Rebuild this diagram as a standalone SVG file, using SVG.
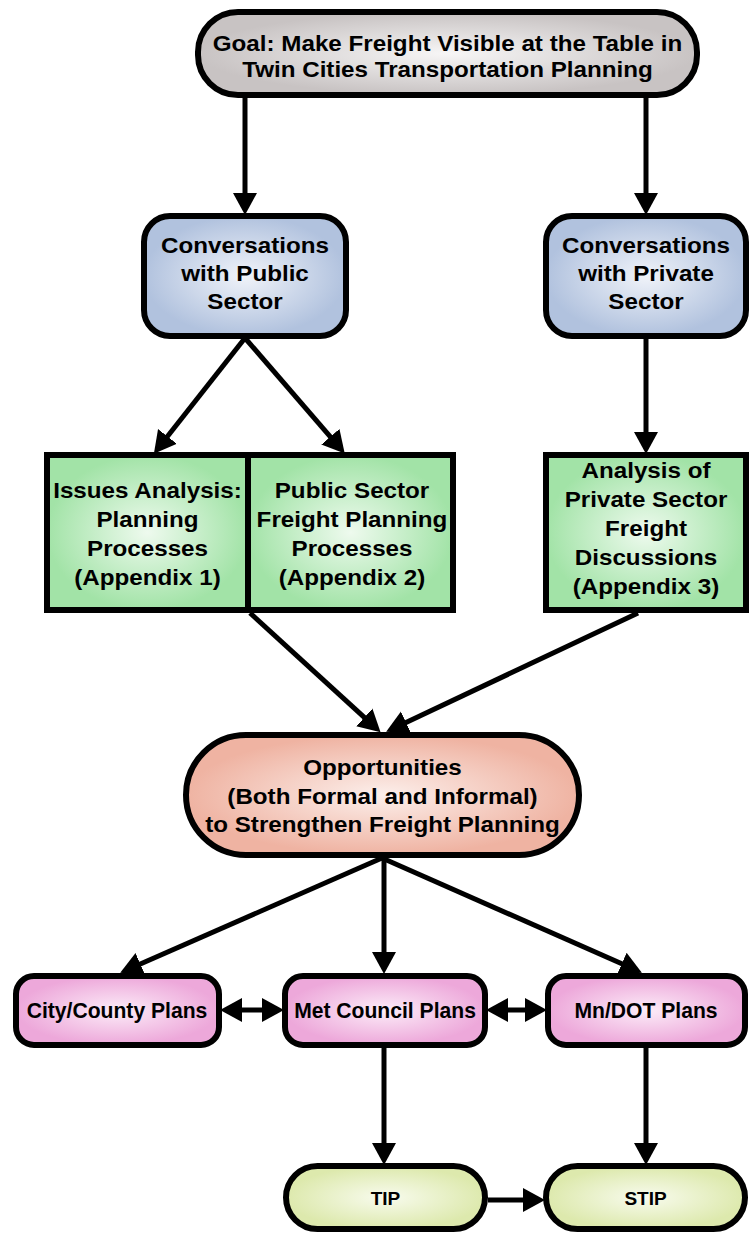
<svg xmlns="http://www.w3.org/2000/svg" width="749" height="1235" viewBox="0 0 749 1235">
<defs>
<style>
.n{stroke:#000;stroke-width:6}
.t{font-family:"Liberation Sans",Arial,sans-serif;font-weight:bold;font-size:22px;fill:#000;text-anchor:middle}
.s{font-size:19px}
.c line{stroke:#000;stroke-width:5;fill:none}
.a{marker-end:url(#ah)}
.d{marker-start:url(#ah);marker-end:url(#ah)}
</style>
<marker id="ah" markerUnits="userSpaceOnUse" markerWidth="22" markerHeight="26" refX="10" refY="13" orient="auto-start-reverse" viewBox="0 0 22 26">
<path d="M0,1 L22,13 L0,25 z" fill="#000"/>
</marker>
<radialGradient id="gGray"><stop offset="0" stop-color="#f7f6f6"/><stop offset="1" stop-color="#c8c3c3"/></radialGradient>
<radialGradient id="gBlue"><stop offset="0" stop-color="#f0f3f9"/><stop offset="1" stop-color="#b1c2de"/></radialGradient>
<radialGradient id="gGreen"><stop offset="0" stop-color="#eefaee"/><stop offset="1" stop-color="#a2e3a7"/></radialGradient>
<radialGradient id="gOrange"><stop offset="0" stop-color="#fcefeb"/><stop offset="1" stop-color="#efb3a2"/></radialGradient>
<radialGradient id="gPink"><stop offset="0" stop-color="#fcecf8"/><stop offset="1" stop-color="#eda8da"/></radialGradient>
<radialGradient id="gYellow"><stop offset="0" stop-color="#f8fbee"/><stop offset="1" stop-color="#dde9ad"/></radialGradient>
</defs>

<g id="connectors" class="c">
<line class="a" x1="245" y1="97" x2="245" y2="203"/>
<line class="a" x1="646" y1="97" x2="646" y2="203"/>
<line class="a" x1="245" y1="338" x2="161.3" y2="444.3"/>
<line class="a" x1="245" y1="338" x2="336.9" y2="444.3"/>
<line class="a" x1="646" y1="338" x2="646" y2="442"/>
<line class="a" x1="250" y1="613" x2="371.7" y2="724.2"/>
<line class="a" x1="638" y1="613" x2="397" y2="726.7"/>
<line class="a" x1="382" y1="858" x2="131.2" y2="968"/>
<line class="a" x1="384" y1="858" x2="384" y2="962"/>
<line class="a" x1="382" y1="858" x2="630.9" y2="967.8"/>
<line class="d" x1="232" y1="1010" x2="272" y2="1010"/>
<line class="d" x1="498" y1="1010" x2="535" y2="1010"/>
<line class="a" x1="384" y1="1048" x2="384" y2="1153"/>
<line class="a" x1="646" y1="1048" x2="646" y2="1153"/>
<line class="a" x1="488" y1="1200" x2="533" y2="1200"/>
</g>

<g id="goal">
<rect class="n" x="198" y="12" width="499" height="83" rx="40" fill="url(#gGray)"/>
<text class="t" transform="translate(447.5 0) scale(1.1 1)"><tspan x="0" y="51">Goal: Make Freight Visible at the Table in</tspan><tspan x="0" y="77">Twin Cities Transportation Planning</tspan></text>
</g>

<g id="public">
<rect class="n" x="144" y="216" width="202" height="120" rx="26" fill="url(#gBlue)"/>
<text class="t" transform="translate(245 0) scale(1.1 1)"><tspan x="0" y="253">Conversations</tspan><tspan x="0" y="281">with Public</tspan><tspan x="0" y="309">Sector</tspan></text>
</g>

<g id="private">
<rect class="n" x="546" y="216" width="200" height="120" rx="26" fill="url(#gBlue)"/>
<text class="t" transform="translate(646 0) scale(1.1 1)"><tspan x="0" y="253">Conversations</tspan><tspan x="0" y="281">with Private</tspan><tspan x="0" y="309">Sector</tspan></text>
</g>

<g id="issues">
<rect class="n" x="47" y="455" width="201" height="155" fill="url(#gGreen)"/>
<text class="t" transform="translate(147.5 0) scale(1.1 1)"><tspan x="0" y="498">Issues Analysis:</tspan><tspan x="0" y="527">Planning</tspan><tspan x="0" y="556">Processes</tspan><tspan x="0" y="585">(Appendix 1)</tspan></text>
</g>

<g id="publicfreight">
<rect class="n" x="248" y="455" width="205" height="155" fill="url(#gGreen)"/>
<text class="t" transform="translate(352 0) scale(1.1 1)"><tspan x="0" y="498">Public Sector</tspan><tspan x="0" y="527">Freight Planning</tspan><tspan x="0" y="556">Processes</tspan><tspan x="0" y="585">(Appendix 2)</tspan></text>
</g>

<g id="privateanalysis">
<rect class="n" x="546" y="455" width="200" height="155" fill="url(#gGreen)"/>
<text class="t" transform="translate(646 0) scale(1.1 1)"><tspan x="0" y="478">Analysis of</tspan><tspan x="0" y="507">Private Sector</tspan><tspan x="0" y="536">Freight</tspan><tspan x="0" y="565">Discussions</tspan><tspan x="0" y="594">(Appendix 3)</tspan></text>
</g>

<g id="opportunities">
<rect class="n" x="186" y="735" width="393" height="120" rx="60" fill="url(#gOrange)"/>
<text class="t" transform="translate(382.5 0) scale(1.1 1)"><tspan x="0" y="775">Opportunities</tspan><tspan x="0" y="804">(Both Formal and Informal)</tspan><tspan x="0" y="832">to Strengthen Freight Planning</tspan></text>
</g>

<g id="city">
<rect class="n" x="16" y="976" width="203" height="69" rx="18" fill="url(#gPink)"/>
<text class="t" transform="translate(117 0) scale(0.96 1)" x="0" y="1018">City/County Plans</text>
</g>

<g id="met">
<rect class="n" x="285" y="976" width="200" height="69" rx="18" fill="url(#gPink)"/>
<text class="t" transform="translate(385 0) scale(0.96 1)" x="0" y="1018">Met Council Plans</text>
</g>

<g id="mndot">
<rect class="n" x="548" y="976" width="197" height="69" rx="18" fill="url(#gPink)"/>
<text class="t" transform="translate(646 0) scale(0.96 1)" x="0" y="1018">Mn/DOT Plans</text>
</g>

<g id="tip">
<rect class="n" x="286" y="1166" width="199" height="63" rx="31.5" fill="url(#gYellow)"/>
<text class="t s" x="385.5" y="1205">TIP</text>
</g>

<g id="stip">
<rect class="n" x="546" y="1166" width="199" height="63" rx="31.5" fill="url(#gYellow)"/>
<text class="t s" x="645.5" y="1205">STIP</text>
</g>
</svg>
